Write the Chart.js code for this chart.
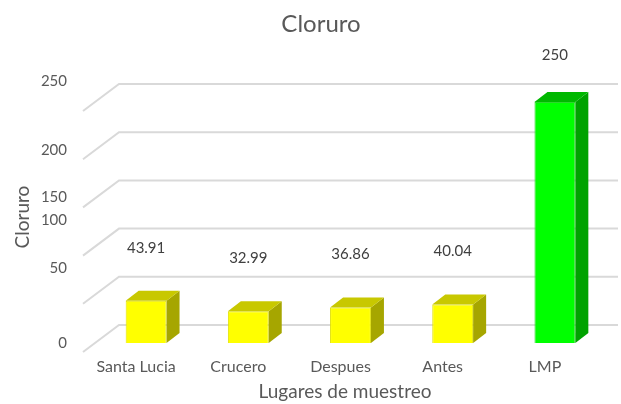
<!DOCTYPE html>
<html>
<head>
<meta charset="utf-8">
<script src="https://cdn.jsdelivr.net/npm/chart.js@4/dist/chart.umd.min.js"></script>
<style>
  html, body { margin: 0; padding: 0; background: #fff; }
  #wrap { width: 621px; height: 404px; }
</style>
</head>
<body>
<div id="wrap"><canvas id="chart"></canvas></div>
<script>
const categories = ['Santa Lucia', 'Crucero', 'Despues', 'Antes', 'LMP'];
const cloruro = [43.91, 32.99, 36.86, 40.04, 250];
const yTicks = [0, 50, 100, 150, 200, 250];

const FONT = 'Lato, "Open Sans", sans-serif';
const TEXT = '#595959';
const faceColors = cloruro.map((v, i) => (i === 4 ? '#00FF00' : '#FFFF00'));
const sideColors = cloruro.map((v, i) => (i === 4 ? '#00A200' : '#A6A600'));
const topColors = cloruro.map((v, i) => (i === 4 ? '#00B800' : '#C8C800'));

// depth of the plot box relative to the plane the bars stand on
const BACK = { dx: 24, dy: -18 };
const FRONT = { dx: -12, dy: 9 };
const BAR_DEPTH = { dx: 13, dy: -10 };
// Excel placed the value-axis labels a bit off the grid lines
const tickNudge = [18, -9, -8, 17, 18, -3];

const box3d = {
  id: 'box3d',
  beforeDatasetsDraw(chart) {
    const { ctx, chartArea: a, scales: { y } } = chart;
    ctx.save();
    ctx.strokeStyle = '#D9D9D9';
    ctx.lineWidth = 2;
    yTicks.forEach(v => {
      const py = y.getPixelForValue(v);
      ctx.beginPath();
      ctx.moveTo(a.left + FRONT.dx, py + FRONT.dy);
      ctx.lineTo(a.left + BACK.dx, py + BACK.dy);
      ctx.lineTo(a.right + 12, py + BACK.dy);
      ctx.stroke();
    });
    ctx.restore();
  },
  afterDatasetsDraw(chart) {
    const { ctx, scales: { x, y } } = chart;
    const meta = chart.getDatasetMeta(0);
    ctx.save();
    meta.data.forEach((bar, i) => {
      const l = bar.x - bar.width / 2, r = bar.x + bar.width / 2;
      const t = bar.y, b = bar.base;
      const { dx, dy } = BAR_DEPTH;
      // side face
      ctx.fillStyle = sideColors[i];
      ctx.beginPath();
      ctx.moveTo(r, t); ctx.lineTo(r + dx, t + dy);
      ctx.lineTo(r + dx, b + dy); ctx.lineTo(r, b);
      ctx.closePath(); ctx.fill();
      // top face
      ctx.fillStyle = topColors[i];
      ctx.beginPath();
      ctx.moveTo(l, t); ctx.lineTo(l + dx, t + dy);
      ctx.lineTo(r + dx, t + dy); ctx.lineTo(r, t);
      ctx.closePath(); ctx.fill();
      // value label
      ctx.fillStyle = '#404040';
      ctx.font = '15px ' + FONT;
      ctx.textAlign = 'center';
      ctx.textBaseline = 'middle';
      ctx.fillText(String(cloruro[i]), bar.x, t - (i === 4 ? 47 : 53));
    });

    // value axis labels
    ctx.fillStyle = TEXT;
    ctx.font = '15px ' + FONT;
    ctx.textAlign = 'right';
    ctx.textBaseline = 'middle';
    yTicks.forEach((v, i) => {
      ctx.fillText(String(v), 67, y.getPixelForValue(v) + BACK.dy + tickNudge[i]);
    });

    // category labels
    ctx.textAlign = 'center';
    ctx.font = '16px ' + FONT;
    categories.forEach((c, i) => {
      ctx.fillText(c, x.getPixelForValue(i) - 10, 367);
    });

    // titles
    ctx.font = '19px ' + FONT;
    ctx.fillText('Lugares de muestreo', 345, 392);
    ctx.font = '24px ' + FONT;
    ctx.fillText('Cloruro', 321, 24);
    ctx.save();
    ctx.translate(23, 217);
    ctx.rotate(-Math.PI / 2);
    ctx.font = '19px ' + FONT;
    ctx.fillText('Cloruro', 0, 0);
    ctx.restore();
    ctx.restore();
  }
};

new Chart(document.getElementById('chart'), {
  type: 'bar',
  data: {
    labels: categories,
    datasets: [{
      label: 'Cloruro',
      data: cloruro,
      backgroundColor: faceColors,
      borderColor: cloruro.map((v, i) => (i === 4 ? '#2DD62D' : '#E0E000')),
      borderWidth: 1,
      categoryPercentage: 0.8,
      barPercentage: 0.5
    }]
  },
  options: {
    responsive: true,
    maintainAspectRatio: false,
    animation: false,
    layout: { padding: { left: 95, right: 15, top: 102, bottom: 61 } },
    plugins: { legend: { display: false }, tooltip: { enabled: false }, title: { display: false } },
    scales: {
      x: { display: false },
      y: { display: false, min: 0, max: 250 }
    }
  },
  plugins: [box3d]
});
</script>
</body>
</html>
